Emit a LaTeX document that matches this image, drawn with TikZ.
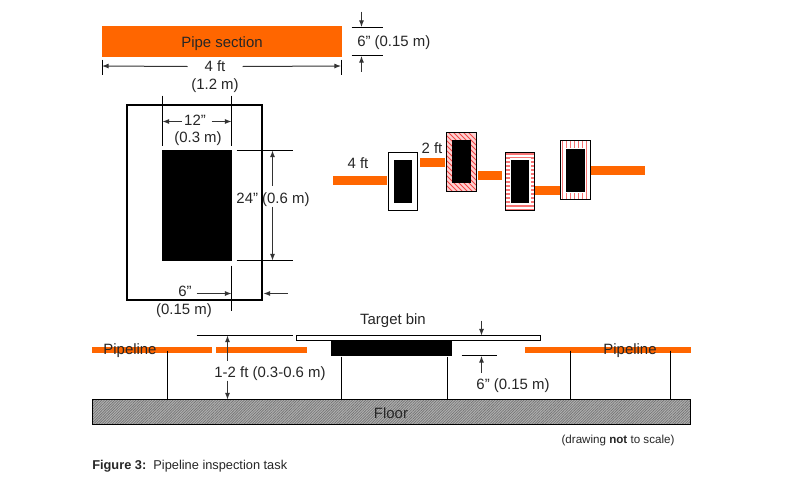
\documentclass[tikz,border=0pt]{standalone}
\usepackage{fontspec}
\setmainfont{Liberation Sans}
\usetikzlibrary{arrows.meta,patterns.meta}
\definecolor{pipeor}{RGB}{255,102,0}
\definecolor{hatchred}{RGB}{245,70,70}
\tikzset{
  x=0.75pt,y=-0.75pt,
  pipe/.style={fill=pipeor,draw=none},
  solidbk/.style={fill=black,draw=none},
  pxalign/.style={xshift=0.375pt,yshift=-0.375pt},
  thinline/.style={draw=black,line width=0.75pt,pxalign},
  dim/.style={draw=black!80,line width=0.75pt,pxalign,-{Latex[length=5pt,width=3.8pt]}},
  lab/.style={inner sep=0pt,text height=8pt,text depth=0pt,font=\fontsize{11.2pt}{13pt}\selectfont,text=black!85},
  framebox/.style={draw=black,line width=0.8pt,fill=white,pxalign},
  hatchframe/.style={draw=black,line width=0.8pt,pxalign},
}
\begin{document}
\begin{tikzpicture}
\useasboundingbox (0,0) rectangle (792,486);
\fill[white] (0,0) rectangle (792,486);
% pipe section
\fill[pipe] (102,26) rectangle (342,57);
\node[lab] (pipesec) at (222,42) {Pipe section};
\draw[thinline] (102,59) -- (102,74) (341,59) -- (341,74);
\node[lab] (fourft) at (215,66) {4 ft};
\node[lab] (onetwo) at (215,84) {(1.2 m)};
\coordinate (dl) at (102,66); \coordinate (dr) at (341,66);
\draw[dim] (187,66) -- (dl);
\draw[dim] (242,66) -- (dr);
\draw[thinline] (351,27) -- (382,27) (351,55) -- (382,55);
\draw[dim] (361,11) -- (361,26.5);
\draw[dim] (361,71) -- (361,55.5);
\node[lab,anchor=west] (six) at (357,41) {6” (0.15 m)};
% large box
\draw[draw=black,line width=1.5pt] (127,105) rectangle (262,299.5);
\fill[solidbk] (162,150) rectangle (232,261);
\draw[thinline] (162,95) -- (162,145) (231,95) -- (231,145);
\node[lab] (twelve) at (195,120) {12”};
\node[lab] (ptthree) at (198,137) {(0.3 m)};
\draw[dim] (181,121) -- (162,121);
\draw[dim] (211,121) -- (231,121);
\draw[thinline] (236,150) -- (292,150) (236,260) -- (292,260);
\node[lab] (tfour) at (273,198) {24” (0.6 m)};
\draw[dim] (272,185) -- (272,150);
\draw[dim] (272,206) -- (272,260);
\draw[thinline] (231,265) -- (231,310);
\node[lab] (sixb) at (185,291) {6”};
\draw[dim] (196,293) -- (231,293);
\draw[dim] (287,293) -- (263,293);
\node[lab] (ptfifteen) at (184,309) {(0.15 m)};
% sequence
\fill[pipe] (333,176) rectangle (387,185);
\node[lab] (fa) at (358,163) {4 ft};
\draw[framebox] (388,152) rectangle (417,210);
\fill[solidbk] (394,160) rectangle (412,203);
\fill[pipe] (420,158) rectangle (445,167);
\node[lab] (tb) at (432,148) {2 ft};
% box 2: diagonal hatch
\begin{scope}
\clip (446,132) rectangle (476,191);
\fill[hatchred!25] (446,132) rectangle (476,191);
\foreach \k in {0,5,...,100}
  \draw[hatchred,line width=0.7pt] (446,110+\k) -- (486,150+\k);
\end{scope}
\draw[hatchframe] (446,132) rectangle (476,191);
\fill[solidbk] (452,140) rectangle (471,183);
\fill[pipe] (478,171) rectangle (502,180);
% box 3: horizontal hatch
\begin{scope}
\clip (505,152) rectangle (534,210);
\fill[white] (505,152) rectangle (534,210);
\foreach \k in {0,4,...,56}
  \draw[hatchred!75,line width=0.8pt] (505,154+\k) -- (534,154+\k);
\end{scope}
\draw[hatchframe] (505,152) rectangle (534,210);
\fill[white] (509.5,158) rectangle (530.5,204);
\fill[solidbk] (511,160) rectangle (529,203);
\fill[pipe] (535,186) rectangle (560,195);
% box 4: vertical hatch
\begin{scope}
\clip (560,140) rectangle (590,199);
\fill[white] (560,140) rectangle (590,199);
\foreach \k in {0,4,...,28}
  \draw[hatchred!75,line width=0.8pt] (562.5+\k,140) -- (562.5+\k,199);
\end{scope}
\draw[hatchframe] (560,140) rectangle (590,199);
\fill[white] (565,148) rectangle (586,192.5);
\fill[solidbk] (566,149) rectangle (585,192);
\fill[pipe] (591,166) rectangle (645,175);
% bottom section
\node[lab] (bin) at (393,319) {Target bin};
\draw[thinline] (196,335) -- (292,335);
\draw[thinline,fill=white] (296,335) rectangle (540,340);
\fill[solidbk] (331,340.5) rectangle (452,356);
\draw[dim] (481,320) -- (481,335);
\fill[pipe] (92,347) rectangle (212,353);
\fill[pipe] (216,347) rectangle (307,353);
\fill[pipe] (525,347) rectangle (691,353);
\fill[gray!62] (92,399) rectangle (690,424);
\fill[pattern={Lines[angle=45,distance=1.4pt,line width=0.5pt]},pattern color=black!55] (92,399) rectangle (690,424);
\draw[thinline] (167,350) -- (167,399) (341,356) -- (341,399) (447,356) -- (447,399) (570,350) -- (570,399) (670,350) -- (670,399);
\draw[thinline] (92,399) rectangle (690,424);
\node[lab] (pl) at (130,349) {Pipeline};
\node[lab] (pr) at (630,349) {Pipeline};
\node[lab] (floor) at (391,413) {Floor};
\node[lab] (onetwoft) at (270,372) {1-2 ft (0.3-0.6 m)};
\draw[dim] (227,360) -- (227,335);
\draw[dim] (227,380) -- (227,399);
\draw[thinline] (461,355) -- (496,355);
\draw[dim] (481,372) -- (481,355.5);
\node[lab] (sixc) at (513,384) {6” (0.15 m)};
\node[inner sep=0pt,font=\fontsize{8.7pt}{10pt}\selectfont,text=black!85] (note) at (618,440) {(drawing \textbf{not} to scale)};
\node[anchor=west,inner sep=0pt,font=\fontsize{9.6pt}{11pt}\selectfont,text=black!85] (cap) at (92,466) {\textbf{Figure 3:}\ \ Pipeline inspection task};
\end{tikzpicture}
\end{document}
